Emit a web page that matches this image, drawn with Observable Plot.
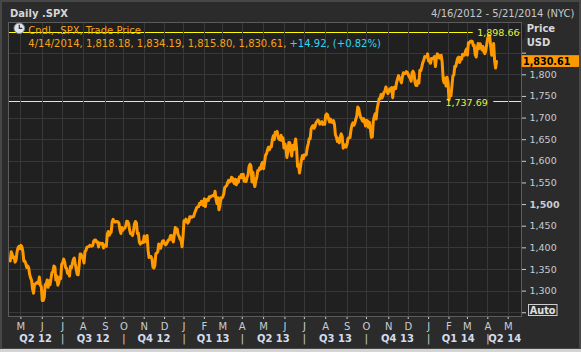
<!DOCTYPE html>
<html><head><meta charset="utf-8">
<script src="https://cdn.jsdelivr.net/npm/d3@7"></script>
<script src="https://cdn.jsdelivr.net/npm/@observablehq/plot@0.6"></script>
<style>
html,body{margin:0;padding:0;background:#d4d4d4;}
#wrap{position:relative;width:581px;height:352px;overflow:hidden;background:#2b2b2b;}
#wrap svg{position:absolute;left:0;top:0;}
</style></head><body><div id="wrap"></div>
<script>
// ---- Data (daily closes) ----
const c2012_04 = [1369.57,1390.78,1385.14,1376.92,1378.53,1366.94,1371.97,1390.69,1399.98,1403.36,1397.91];
const c2012_05 = [1405.82,1402.31,1391.57,1369.10,1369.58,1363.72,1354.58,1357.99,1353.39,1338.35,1330.66,1324.80,1304.86,1295.22,1315.99,1316.63,1318.86,1320.68,1317.82,1332.42,1313.32,1310.33];
const c2012_06 = [1278.04,1278.18,1285.50,1315.13,1314.99,1325.66,1308.93,1324.18,1314.88,1329.10,1342.84,1344.78,1357.98,1355.69,1325.51,1335.02,1313.72,1319.99,1331.85,1329.04,1362.16];
const c2012_07 = [1365.51,1374.02,1367.58,1354.68,1352.46,1341.47,1341.45,1334.76,1356.78,1353.64,1363.67,1372.78,1376.51,1362.66,1350.52,1338.31,1337.89,1360.02,1385.97,1385.30,1379.32];
const c2012_08 = [1375.32,1365.00,1390.99,1394.23,1401.35,1402.22,1402.80,1405.87,1404.11,1403.93,1405.53,1415.51,1418.16,1418.13,1413.17,1413.49,1402.08,1411.13,1410.44,1409.30,1410.49,1399.48,1406.58];
const c2012_09 = [1404.94,1403.44,1432.12,1437.92,1429.08,1433.56,1436.56,1459.99,1465.77,1461.19,1459.32,1461.05,1460.26,1460.15,1456.89,1441.59,1433.32,1447.15,1440.67];
const c2012_10 = [1444.49,1445.75,1450.99,1461.40,1460.93,1455.88,1441.48,1432.56,1432.84,1428.59,1440.13,1454.92,1460.91,1457.34,1433.19,1433.82,1413.11,1408.75,1412.97,1411.94,1412.16];
const c2012_11 = [1427.59,1414.20,1417.26,1428.39,1394.53,1377.51,1379.85,1380.03,1374.53,1355.49,1353.33,1359.88,1386.89,1387.81,1391.03,1409.15,1406.29,1398.94,1409.93,1415.95,1416.18];
const c2012_12 = [1409.46,1407.05,1409.28,1413.94,1418.07,1418.55,1427.84,1428.48,1419.45,1413.58,1430.36,1446.79,1435.81,1443.69,1430.15,1426.66,1419.83,1418.10,1402.43,1426.19];
const c2013_01 = [1462.42,1459.37,1466.47,1461.89,1457.15,1461.02,1472.12,1472.05,1470.68,1472.34,1472.63,1480.94,1485.98,1492.56,1494.81,1494.82,1502.96,1500.18,1507.84,1501.96,1498.11];
const c2013_02 = [1513.17,1495.71,1511.29,1512.12,1509.39,1517.93,1517.01,1519.43,1520.33,1521.38,1519.79,1530.94,1511.95,1502.42,1515.60,1487.85,1496.94,1515.99,1514.68];
const c2013_03 = [1518.20,1525.20,1539.79,1541.46,1544.26,1551.18,1556.22,1552.48,1554.52,1563.23,1560.70,1552.10,1548.34,1558.71,1545.80,1556.89,1551.69,1563.77,1562.85,1569.19];
const c2013_04 = [1562.17,1570.25,1553.69,1559.98,1553.28,1563.07,1568.61,1587.73,1593.37,1588.85,1552.36,1574.57,1552.01,1541.61,1555.25,1562.50,1578.78,1578.79,1585.16,1582.24,1593.61,1597.57];
const c2013_05 = [1582.70,1597.59,1614.42,1617.50,1625.96,1632.69,1626.67,1633.70,1633.77,1650.34,1658.78,1650.47,1667.47,1666.29,1669.16,1655.35,1650.51,1649.60,1660.06,1648.36,1654.41,1630.74];
const c2013_06 = [1640.42,1631.38,1608.90,1622.56,1643.38,1642.81,1626.13,1612.52,1636.36,1626.73,1639.04,1651.81,1628.93,1588.19,1592.43,1573.09,1588.03,1603.26,1613.20,1606.28];
const c2013_07 = [1614.96,1614.08,1615.41,1631.89,1640.46,1652.32,1652.62,1675.02,1680.19,1682.50,1676.26,1680.91,1689.37,1692.09,1695.53,1692.39,1685.94,1690.25,1691.65,1685.33,1685.96,1685.73];
const c2013_08 = [1706.87,1709.67,1707.14,1697.37,1690.91,1697.48,1691.42,1689.47,1694.16,1685.39,1661.32,1655.83,1646.06,1652.35,1642.80,1656.96,1663.50,1656.78,1630.48,1634.96,1638.17,1632.97];
const c2013_09 = [1639.77,1653.08,1655.08,1655.17,1671.71,1683.99,1689.13,1683.42,1687.99,1697.60,1704.76,1725.52,1722.34,1709.91,1701.84,1697.42,1692.77,1698.67,1691.75,1681.55];
const c2013_10 = [1695.00,1693.87,1678.66,1690.50,1676.12,1655.45,1656.40,1692.56,1703.20,1710.14,1698.06,1721.54,1733.15,1744.50,1744.66,1754.67,1746.38,1752.07,1759.77,1762.11,1771.95,1763.31,1756.54];
const c2013_11 = [1761.64,1767.93,1762.97,1770.49,1747.15,1770.61,1771.89,1767.69,1782.00,1790.62,1798.18,1791.53,1787.87,1781.37,1795.85,1804.76,1802.48,1802.75,1807.23,1805.81];
const c2013_12 = [1800.90,1795.15,1792.81,1785.03,1805.09,1808.37,1802.62,1782.22,1775.50,1775.32,1786.54,1781.00,1810.65,1809.60,1818.32,1827.99,1833.32,1842.02,1841.40,1841.07,1848.36];
const c2014_01 = [1831.98,1831.37,1826.77,1837.88,1837.49,1838.13,1842.37,1819.20,1838.88,1848.38,1845.89,1838.70,1843.80,1844.86,1828.46,1790.29,1781.56,1792.50,1774.20,1794.19,1782.59];
const c2014_02 = [1741.89,1755.20,1751.64,1773.43,1797.02,1799.84,1819.75,1819.26,1829.83,1838.63,1840.76,1828.75,1839.78,1836.25,1847.61,1845.12,1845.16,1854.29,1859.45];
const c2014_03 = [1845.73,1873.91,1873.81,1877.03,1878.04,1877.17,1867.63,1868.20,1846.34,1841.13,1858.83,1872.25,1860.77,1872.01,1866.52,1857.44,1865.62,1852.56,1849.04,1857.62,1872.34];
const c2014_04 = [1885.52,1890.90,1888.77,1865.09,1845.04,1851.96,1872.18,1833.08,1815.69,1830.61];

// Market holidays inside the window (trading-day calendar)
const holidays = ["2012-05-28","2012-07-04","2012-09-03","2012-10-29","2012-10-30","2012-11-22","2012-12-25","2013-01-01","2013-01-21","2013-02-18","2013-03-29","2013-05-27","2013-07-04","2013-09-02","2013-11-28","2013-12-25","2014-01-01","2014-01-20","2014-02-17","2014-04-18"];
const windowRange = ["2012-04-16", "2014-05-21"];

// Range lines (high / low of the period)
const highPrice = [1898.66];
const lowPrice = [1737.69];
const lowDate = ["2014-02-05"];

// Last bar legend values
const lastBarDate = ["4/14/2014"];
const lastBarOHLC = [1818.18, 1834.19, 1815.80, 1830.61];
const lastBarChange = [14.92];
const lastBarPct = [0.82];

// Tick labels (1,250 and 1,850 sit under the Auto button and the price tag)
const yTickValues = [1250,1300,1350,1400,1450,1500,1550,1600,1650,1700,1750,1800,1850];
const yTickHidden = [1250, 1850];
const monthLetters = ["J","F","M","A","M","J","J","A","S","O","N","D"];

// ---- Build trading-day index ----
const hol = new Set(holidays);
const tradingDays = [];
{
  const end = new Date(windowRange[1] + "T00:00:00Z");
  for (let d = new Date(windowRange[0] + "T00:00:00Z"); d <= end; d = new Date(d.getTime() + 864e5)) {
    const wd = d.getUTCDay();
    if (wd === 0 || wd === 6) continue;
    const s = d.toISOString().slice(0, 10);
    if (hol.has(s)) continue;
    tradingDays.push(s);
  }
}
const closes = [].concat(c2012_04,c2012_05,c2012_06,c2012_07,c2012_08,c2012_09,c2012_10,c2012_11,c2012_12,
  c2013_01,c2013_02,c2013_03,c2013_04,c2013_05,c2013_06,c2013_07,c2013_08,c2013_09,c2013_10,c2013_11,c2013_12,
  c2014_01,c2014_02,c2014_03,c2014_04);
const data = closes.map((c, i) => ({i, date: tradingDays[i], close: c}));

const monthStarts = [];
for (let i = 1; i < tradingDays.length; i++) {
  if (tradingDays[i].slice(5, 7) !== tradingDays[i - 1].slice(5, 7)) monthStarts.push(i);
}
const monthOf = i => +tradingDays[i].slice(5, 7);
const quarterStarts = monthStarts.filter(i => [1, 4, 7, 10].includes(monthOf(i)));

const xDomain = [-1.8, 526.7];
const bounds = [xDomain[0], ...quarterStarts, xDomain[1]];
const quarters = [];
for (let k = 0; k < bounds.length - 1; k++) {
  const startIdx = k === 0 ? 0 : bounds[k];
  const m = monthOf(startIdx), y = tradingDays[startIdx].slice(2, 4);
  quarters.push({mid: (bounds[k] + bounds[k + 1]) / 2, label: "Q" + (Math.floor((m - 1) / 3) + 1) + " " + y});
}
const lowIndex = tradingDays.indexOf(lowDate[0]);
const fmt2 = d3.format(",.2f");
const fmtY = d => yTickHidden.includes(d) ? "" : d3.format(",")(d);
const PLOTBG = "#202020";
const GRID = "#383838";

const chart = Plot.plot({
  width: 581, height: 352,
  marginLeft: 8, marginRight: 60, marginTop: 22, marginBottom: 36,
  style: {background: "transparent", color: "#c9ccd3", fontFamily: "DejaVu Sans, sans-serif", fontSize: "9.5px", overflow: "visible"},
  x: {domain: xDomain, ticks: monthStarts, tickFormat: i => monthLetters[monthOf(i) - 1], tickSize: 3, tickPadding: 3, label: null},
  y: {domain: [1241.3, 1920.9], axis: "right", ticks: yTickValues, tickFormat: fmtY, tickSize: 4, tickPadding: 4, label: null},
  marks: [
    Plot.frame({fill: PLOTBG}),
    Plot.ruleY(highPrice, {stroke: "#ffff00", strokeWidth: 1, shapeRendering: "crispEdges"}),
    Plot.ruleY(lowPrice, {stroke: "#ffff00", strokeWidth: 1, shapeRendering: "crispEdges"}),
    Plot.text(highPrice, {y: d => d, text: fmt2, frameAnchor: "right", textAnchor: "end", dx: -2, dy: 1, fill: PLOTBG, stroke: PLOTBG, strokeWidth: 12, fontSize: 9.5}),
    Plot.text(lowPrice, {x: () => lowIndex, y: d => d, text: fmt2, textAnchor: "start", dx: -5.5, dy: 1, fill: PLOTBG, stroke: PLOTBG, strokeWidth: 12, fontSize: 9.5}),
    Plot.ruleY(yTickValues, {stroke: GRID, shapeRendering: "crispEdges"}),
    Plot.ruleX(monthStarts, {stroke: GRID, shapeRendering: "crispEdges"}),
    Plot.line(data, {x: "i", y: "close", stroke: "#ff9900", strokeWidth: 3}),
    Plot.text(highPrice, {y: d => d, text: fmt2, frameAnchor: "right", textAnchor: "end", dx: -2, dy: 1, fill: "#e2f53a", fontSize: 9.5}),
    Plot.text(lowPrice, {x: () => lowIndex, y: d => d, text: fmt2, textAnchor: "start", dx: -5.5, dy: 1, fill: "#e2f53a", fontSize: 9.5}),
    Plot.frame({stroke: "#5c5c5c"}),
    Plot.text(quarters, {x: "mid", text: "label", frameAnchor: "bottom", dy: 25, fontWeight: "bold", fontSize: 10, fill: "#d3dcee"}),
    Plot.text(quarterStarts, {x: d => d, text: () => "|", frameAnchor: "bottom", dy: 25, fill: "#c4c4c4", fontSize: 11})
  ]
});

const wrap = document.getElementById("wrap");
wrap.appendChild(chart);
const svgSel = d3.select(chart);
svgSel.selectAll("text").filter(function () { return this.textContent === "1,500"; }).attr("font-weight", "bold");
svgSel.selectAll('g[aria-label^="x-axis"] text').attr("font-size", "10px");

// ---- overlay (header, legend, price tag) ----
const ys = chart.scale("y");
const yPix = v => ys.range[0] + (v - ys.domain[0]) / (ys.domain[1] - ys.domain[0]) * (ys.range[1] - ys.range[0]);
const ov = d3.create("svg").attr("width", 581).attr("height", 352)
  .style("font-family", "DejaVu Sans, sans-serif").style("pointer-events", "none");
ov.append("rect").attr("x", 1).attr("y", 1).attr("width", 579).attr("height", 348).attr("fill", "none").attr("stroke", "#474747").attr("stroke-width", 2);
ov.append("rect").attr("x", 0).attr("y", 349).attr("width", 581).attr("height", 3).attr("fill", "#d4d4d4");
ov.append("text").attr("x", 10).attr("y", 16.5).attr("font-size", 10).attr("font-weight", "bold").attr("fill", "#d6d6d6").text("Daily .SPX");
ov.append("text").attr("x", 574.5).attr("y", 16.5).attr("text-anchor", "end").attr("font-size", 10).attr("fill", "#c8c8c8")
  .text(`${windowRange[0].slice(5,7).replace(/^0/,"")}/${windowRange[0].slice(8,10).replace(/^0/,"")}/${windowRange[0].slice(0,4)} - ${windowRange[1].slice(5,7).replace(/^0/,"")}/${windowRange[1].slice(8,10).replace(/^0/,"")}/${windowRange[1].slice(0,4)} (NYC)`);
// clock icon
const ck = ov.append("g").attr("transform", "translate(19.3,28.3)");
ck.append("circle").attr("r", 5.3).attr("fill", "#dfe3ec").attr("stroke", "#7d8594").attr("stroke-width", 1);
ck.append("path").attr("d", "M0,-3.5V0H3").attr("fill", "none").attr("stroke", "#333").attr("stroke-width", 1.2);
ov.append("text").attr("x", 28.3).attr("y", 33.6).attr("font-size", 10).attr("fill", "#f7a21b").text("Cndl, .SPX, Trade Price");
const l2 = ov.append("text").attr("x", 28.3).attr("y", 47).attr("font-size", 10);
l2.append("tspan").attr("fill", "#f7a21b").text(lastBarDate[0] + ", " + lastBarOHLC.map(fmt2).join(", ") + ", ");
l2.append("tspan").attr("fill", "#2fd6f2").text("+" + fmt2(lastBarChange[0]) + ", (+" + lastBarPct[0].toFixed(2) + "%)");
ov.append("text").attr("x", 526.7).attr("y", 32).attr("font-size", 10).attr("font-weight", "bold").attr("fill", "#d8d8d8").text("Price");
ov.append("text").attr("x", 526.7).attr("y", 46.3).attr("font-size", 10).attr("font-weight", "bold").attr("fill", "#d8d8d8").text("USD");
// price tag
const lastClose = closes[closes.length - 1];
const yl = yPix(lastClose);
ov.append("rect").attr("x", 521.7).attr("y", yl - 5.9).attr("width", 57.3).attr("height", 11.8).attr("fill", "#ff9900");
ov.append("text").attr("x", 523).attr("y", yl + 3.5).attr("font-size", 9.6).attr("font-weight", "bold").attr("fill", "#000").text(fmt2(lastClose));
// Auto button
ov.append("rect").attr("x", 528.5).attr("y", 304.5).attr("width", 28.5).attr("height", 11).attr("fill", "#2b2b2b").attr("stroke", "#cfcfcf").attr("stroke-width", 1);
ov.append("text").attr("x", 542.7).attr("y", 313.8).attr("text-anchor", "middle").attr("font-size", 9.7).attr("font-weight", "bold").attr("fill", "#e0e0e0").text("Auto");
wrap.appendChild(ov.node());
</script></body></html>
